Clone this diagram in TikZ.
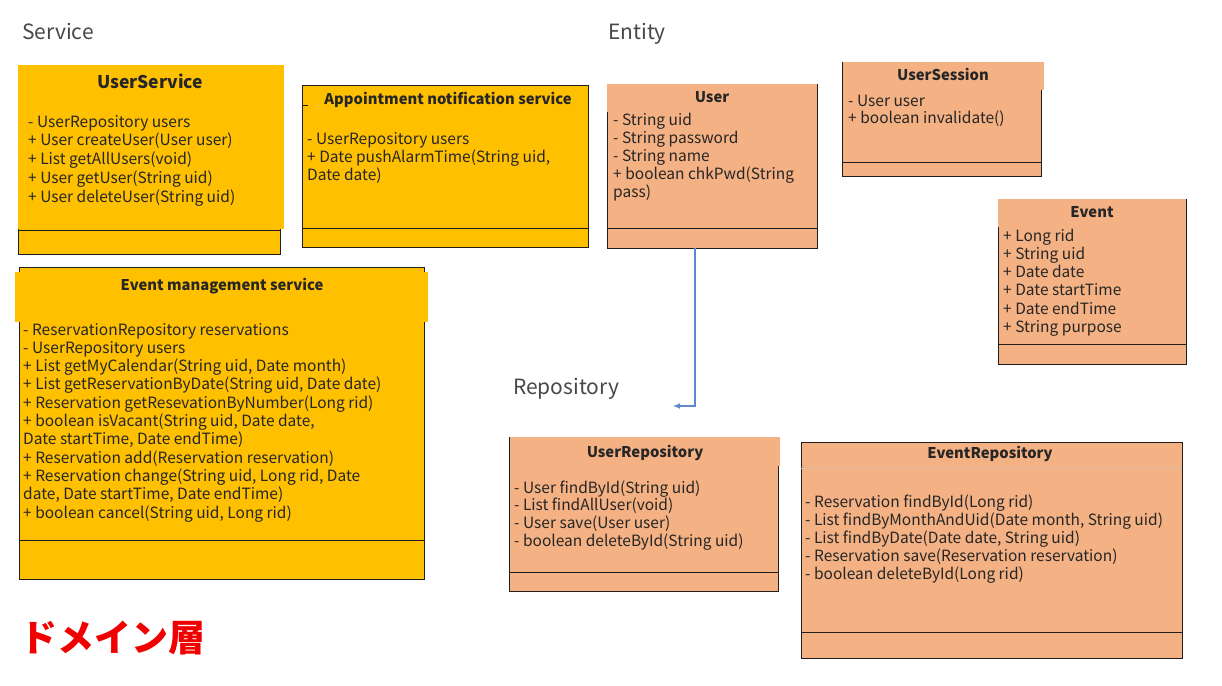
\documentclass[tikz,border=0pt]{standalone}
\usepackage{fontspec}
\setmainfont{Noto Sans CJK JP}
\usetikzlibrary{arrows.meta}

\definecolor{svc}{HTML}{FFC000}
\definecolor{ent}{HTML}{F4B183}
\definecolor{ink}{HTML}{262626}
\definecolor{edge}{HTML}{1E1E1E}
\definecolor{link}{HTML}{5F88CF}
\definecolor{layer}{HTML}{F00000}

\tikzset{
  box/.style={draw=edge, line width=1pt, anchor=north west, inner sep=0pt, outer sep=0pt},
  header/.style={draw=none, anchor=north west, inner sep=0pt, outer sep=0pt},
  divider/.style={draw=edge, line width=1pt},
  member/.style={anchor=base west, inner sep=0pt, font=\fontsize{15.5}{18}\selectfont, text=ink},
  classtitle/.style={anchor=base, inner sep=0pt, font=\bfseries\fontsize{14.8}{18}\selectfont, text=ink},
  section/.style={anchor=base west, inner sep=0pt, font=\fontsize{21}{24}\selectfont, text=ink!85},
  link/.style={draw=link, line width=1.1pt, -{Latex[length=7pt,width=6pt]}},
}

% member lines of a class: name prefix, x, first baseline, line step, list
\newcommand\classlines[5]{%
  \foreach \t [count=\i] in {#5}{\node[member] (#1-\i) at (#2,{#3+(\i-1)*#4}) {\t};}}

\begin{document}
\begin{tikzpicture}[x=1pt,y=-1pt]
\useasboundingbox[fill=white] (0,0) rectangle (1222,685);

% layer headings
\node[section] (hsvc) at (22,40) {Service};
\node[section] (hent) at (608,40) {Entity};
\node[section] (hrep) at (513,394) {Repository};

% ---------- Service ----------
% UserService
\node[box, fill=svc, minimum width=262pt, minimum height=189pt] (usersvc) at (18,65) {};
\node[header, fill=svc, minimum width=266pt, minimum height=164.5pt] (usersvch) at (17.5,64.5) {};
\draw[divider] (usersvc.west |- 0,230) -- (usersvc.east |- 0,230);
\node[classtitle, font=\bfseries\fontsize{17.5}{22}\selectfont] (usersvct) at (150,88) {UserService};
\classlines{us}{28}{127}{18.8}{{- UserRepository users},{+ User createUser(User user)},{+ List getAllUsers(void)},{+ User getUser(String uid)},{+ User deleteUser(String uid)}}

% Appointment notification service
\node[box, fill=svc, minimum width=286pt, minimum height=162pt] (notify) at (302,85) {};
\draw[divider] (notify.west |- 0,228) -- (notify.east |- 0,228);
\draw[edge, line width=1pt] (302,105) -- (308,105);
\node[classtitle] (notifyt) at (448,104) {Appointment notification service};
\classlines{an}{307}{144}{18.2}{{- UserRepository users},{+ Date pushAlarmTime(String uid,},{Date date)}}

% Event management service
\node[box, fill=svc, minimum width=405pt, minimum height=312pt] (evmgmt) at (19,267) {};
\node[header, fill=svc, minimum width=413pt, minimum height=50pt] (evmgmth) at (15,272) {};
\draw[divider] (evmgmt.west |- 0,540) -- (evmgmt.east |- 0,540);
\node[classtitle] (evmgmtt) at (222,290) {Event management service};
\classlines{em}{23}{335}{18.3}{{- ReservationRepository reservations},{- UserRepository users},{+ List getMyCalendar(String uid, Date month)},{+ List getReservationByDate(String uid, Date date)},{+ Reservation getResevationByNumber(Long rid)},{+ boolean isVacant(String uid, Date date,},{Date startTime, Date endTime)},{+ Reservation add(Reservation reservation)},{+ Reservation change(String uid, Long rid, Date},{date, Date startTime, Date endTime)},{+ boolean cancel(String uid, Long rid)}}

% ---------- Entity ----------
% User
\node[box, fill=ent, minimum width=210pt, minimum height=164pt] (user) at (607,84) {};
\node[header, fill=ent, minimum width=210pt, minimum height=28.5pt] (userh) at (606.5,83.5) {};
\draw[divider] (user.west |- 0,228) -- (user.east |- 0,228);
\node[classtitle] (usert) at (712,102) {User};
\classlines{ue}{613}{125}{18}{{- String uid},{- String password},{- String name},{+ boolean chkPwd(String},{pass)}}

% UserSession
\node[box, fill=ent, minimum width=199pt, minimum height=114pt] (session) at (842,62) {};
\node[header, fill=ent, minimum width=201pt, minimum height=28.5pt] (sessionh) at (842.5,61.5) {};
\draw[divider] (session.west |- 0,162) -- (session.east |- 0,162);
\node[classtitle] (sessiont) at (943,81) {UserSession};
\classlines{se}{848}{106}{17.5}{{- User user},{+ boolean invalidate()}}

% Event
\node[box, fill=ent, minimum width=188pt, minimum height=165pt] (event) at (998,199) {};
\node[header, fill=ent, minimum width=188pt, minimum height=28.5pt] (eventh) at (997.5,198.5) {};
\draw[divider] (event.west |- 0,344) -- (event.east |- 0,344);
\node[classtitle] (eventt) at (1092,217) {Event};
\classlines{ev}{1003}{241}{18.3}{{+ Long rid},{+ String uid},{+ Date date},{+ Date startTime},{+ Date endTime},{+ String purpose}}

% ---------- Repository ----------
% UserRepository
\node[box, fill=ent, minimum width=269pt, minimum height=154pt] (userrepo) at (509,437) {};
\node[header, fill=ent, minimum width=270pt, minimum height=29.5pt] (userrepoh) at (509.5,436.5) {};
\draw[divider] (userrepo.west |- 0,572) -- (userrepo.east |- 0,572);
\node[classtitle] (userrepot) at (645,457) {UserRepository};
\classlines{ur}{514}{493}{17.8}{{- User findById(String uid)},{- List findAllUser(void)},{- User save(User user)},{- boolean deleteById(String uid)}}

% EventRepository
\node[box, fill=ent, minimum width=381pt, minimum height=216pt] (eventrepo) at (801,442) {};
\draw[ent!80!black!60, line width=0.6pt] (eventrepo.west |- 0,468) -- (eventrepo.east |- 0,468);
\draw[divider] (eventrepo.west |- 0,632) -- (eventrepo.east |- 0,632);
\node[classtitle] (eventrepot) at (990,458) {EventRepository};
\classlines{er}{805}{507}{18.1}{{- Reservation findById(Long rid)},{- List findByMonthAndUid(Date month, String uid)},{- List findByDate(Date date, String uid)},{- Reservation save(Reservation reservation)},{- boolean deleteById(Long rid)}}

% dependency connector
\coordinate (bend) at (695,406);
\coordinate (tip) at (673,406);
\draw[link] (bend |- user.south) -- (bend) -- (tip);

% layer caption
\node[inner sep=0pt, text=layer, font=\bfseries\fontsize{37}{40}\selectfont] (layername) at (113,638) {ドメイン層};

\end{tikzpicture}
\end{document}
